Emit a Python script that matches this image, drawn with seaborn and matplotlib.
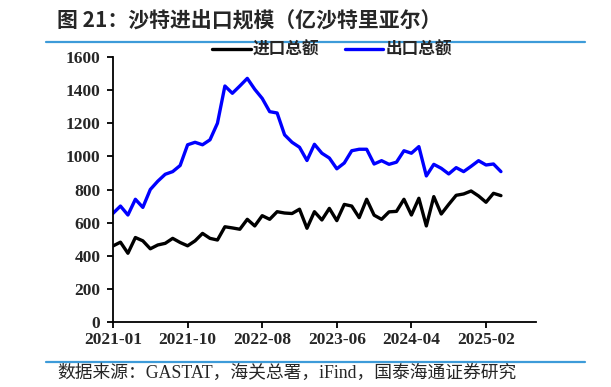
import matplotlib
matplotlib.use("Agg")
import matplotlib.pyplot as plt
from matplotlib.lines import Line2D
import seaborn as sns
import pandas as pd
import numpy as np

# ---- data (亿沙特里亚尔) ----
tick_labels = ["2021-01", "2021-10", "2022-08", "2023-06", "2024-04", "2025-02"]
tick_index = [0, 10, 20, 30, 40, 50]

imports = [459, 482, 415, 510, 490, 442, 465, 475, 505, 480,
           460, 490, 535, 505, 495, 575, 568, 560, 620, 580,
           642, 620, 666, 658, 655, 681, 566, 666, 616, 686,
           612, 710, 700, 630, 741, 645, 620, 665, 668, 741,
           646, 747, 580, 757, 652, 710, 765, 773, 791, 761,
           723, 777, 763]
exports = [656, 700, 646, 741, 692, 800, 850, 892, 908, 945,
           1070, 1085, 1070, 1100, 1200, 1425, 1381, 1425, 1471, 1405,
           1350, 1270, 1262, 1130, 1085, 1055, 975, 1073, 1019, 990,
           925, 960, 1034, 1043, 1043, 954, 974, 952, 965, 1034,
           1019, 1059, 882, 952, 928, 894, 932, 908, 940, 974,
           948, 954, 908]
series_names = ["进口总额", "出口总额"]
series_colors = ["#000000", "#0000FF"]

idx = list(range(len(imports)))
df = pd.DataFrame({
    "idx": idx * 2,
    "value": imports + exports,
    "series": [series_names[0]] * len(imports) + [series_names[1]] * len(exports),
})

sns.set_theme(style="white")
plt.rcParams["font.family"] = ["Liberation Serif", "Noto Sans CJK SC"]
plt.rcParams["axes.unicode_minus"] = False

fig = plt.figure(figsize=(6.11, 3.87), dpi=100)
ax = fig.add_axes([113 / 611, 1 - 322 / 387, (536 - 113) / 611, (322 - 57) / 387])

sns.lineplot(data=df, x="idx", y="value", hue="series", hue_order=series_names,
             palette=series_colors, linewidth=2.4, ax=ax, legend=False)
for ln in ax.lines:
    ln.set_solid_joinstyle("round")
    ln.set_solid_capstyle("round")

ax.set_xlim(0, 56.7)
ax.set_ylim(0, 1600)
ax.set_yticks(range(0, 1601, 200))
ax.set_xticks(tick_index)
ax.set_xticklabels(tick_labels)
ax.set_xlabel("")
ax.set_ylabel("")
for s in ["top", "right"]:
    ax.spines[s].set_visible(False)
for s in ["left", "bottom"]:
    ax.spines[s].set_color("black")
    ax.spines[s].set_linewidth(1.3)
ax.tick_params(axis="both", which="major", direction="out", length=4, width=1.3,
               color="black", labelsize=12.5, left=True, bottom=True)
ax.tick_params(axis="y", pad=5)
ax.tick_params(axis="x", pad=3)
for lab in ax.get_xticklabels() + ax.get_yticklabels():
    lab.set_fontweight("bold")
    lab.set_family("Liberation Serif")
ax.grid(False)

handles = [Line2D([0], [0], color=c, lw=2.4) for c in series_colors]
leg = fig.legend(handles, series_names, loc="center", bbox_to_anchor=(332 / 611, 1 - 50 / 387),
                 ncol=2, frameon=False, handlelength=2.3, handletextpad=0.15, columnspacing=1.5,
                 prop={"family": "Noto Sans CJK SC", "weight": "bold", "size": 12})

fig.text(57 / 611, 1 - 21 / 387, "图 21：沙特进出口规模（亿沙特里亚尔）",
         fontsize=15, fontweight="bold", va="center", ha="left",
         family=["Noto Sans CJK SC", "DejaVu Sans"])
fig.add_artist(Line2D([46 / 611, 585 / 611], [1 - 42 / 387] * 2, color="#3d9bd9", lw=1.6))
fig.add_artist(Line2D([46 / 611, 585 / 611], [1 - 362 / 387] * 2, color="#3d9bd9", lw=1.6))
fig.text(57 / 611, 1 - 373 / 387, "数据来源：GASTAT，海关总署，iFind，国泰海通证券研究",
         fontsize=12.8, va="center", ha="left",
         family=["Liberation Serif", "Noto Sans CJK SC"])

fig.savefig("out.png", dpi=100)
